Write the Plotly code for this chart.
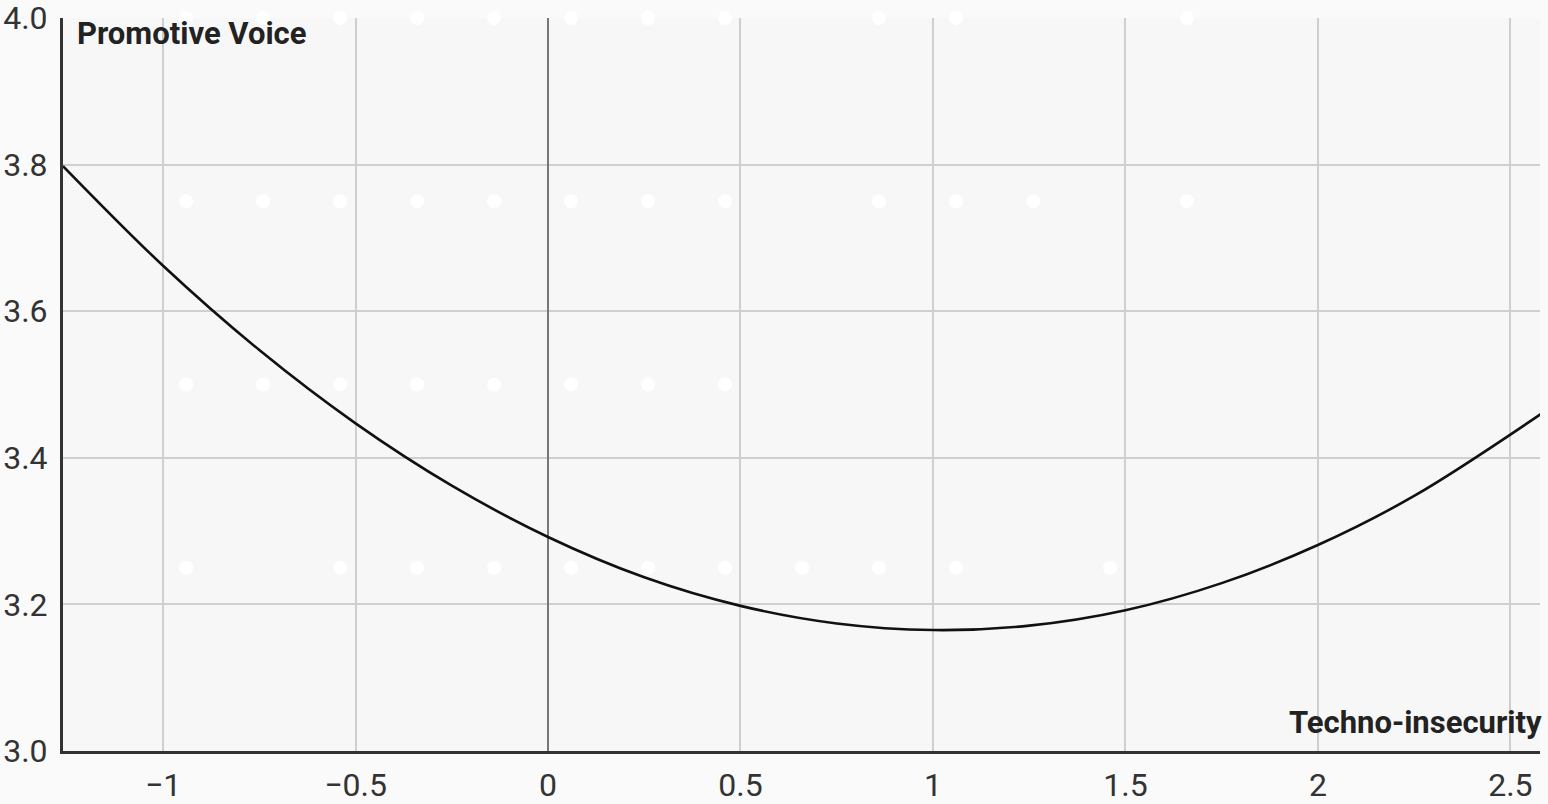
import plotly.graph_objects as go

# Curve values
curve_x = [-1.26, -1.0, -0.75, -0.5, -0.25, 0.0, 0.25, 0.5, 0.75, 1.0, 1.25, 1.5, 1.75, 2.0, 2.25, 2.58]
curve_y = [3.798, 3.662, 3.547, 3.447, 3.362, 3.292, 3.237, 3.198, 3.174, 3.165, 3.171, 3.192, 3.229, 3.281, 3.348, 3.460]

# Faint white background dots
dots_row_400 = [-0.94, -0.74, -0.54, -0.34, -0.14, 0.06, 0.26, 0.46, 0.86, 1.06, 1.66]
dots_row_375 = [-0.94, -0.74, -0.54, -0.34, -0.14, 0.06, 0.26, 0.46, 0.86, 1.06, 1.26, 1.66]
dots_row_350 = [-0.94, -0.74, -0.54, -0.34, -0.14, 0.06, 0.26, 0.46]
dots_row_325 = [-0.94, -0.54, -0.34, -0.14, 0.06, 0.26, 0.46, 0.66, 0.86, 1.06, 1.46]
dot_rows = [(4.0, dots_row_400), (3.75, dots_row_375), (3.5, dots_row_350), (3.25, dots_row_325)]

x_ticks = [-1, -0.5, 0, 0.5, 1, 1.5, 2, 2.5]
x_tick_labels = ["\u22121", "\u22120.5", "0", "0.5", "1", "1.5", "2", "2.5"]
y_ticks = [3.0, 3.2, 3.4, 3.6, 3.8, 4.0]

x_title = "Techno-insecurity"
y_title = "Promotive Voice"

fig = go.Figure()

dx, dy = [], []
for yv, xs in dot_rows:
    for xv in xs:
        dx.append(xv)
        dy.append(yv)
fig.add_trace(go.Scatter(x=dx, y=dy, mode="markers",
                         marker=dict(color="white", size=14, line=dict(width=0)),
                         hoverinfo="skip", showlegend=False, cliponaxis=False))

fig.add_trace(go.Scatter(x=curve_x, y=curve_y, mode="lines",
                         line=dict(color="#111111", width=2.6, shape="spline", smoothing=1.0),
                         showlegend=False))

fig.update_layout(
    width=1548, height=804,
    margin=dict(l=63, r=8, t=18, b=53, autoexpand=False),
    paper_bgcolor="#fafafa",
    plot_bgcolor="#f7f7f7",
    font=dict(family="Roboto", size=32, color="#333333"),
    xaxis=dict(range=[-1.26, 2.577], tickvals=x_ticks, ticktext=x_tick_labels,
               showgrid=True, gridcolor="#cfcfcf", gridwidth=2,
               zeroline=True, zerolinecolor="#777777", zerolinewidth=2,
               showline=True, linecolor="#333333", linewidth=3,
               ticks="", ticklabelstandoff=4, automargin=False,
               ticklabeloverflow="allow"),
    yaxis=dict(range=[3.0, 4.0], tickvals=y_ticks, tickformat=".1f",
               showgrid=True, gridcolor="#cfcfcf", gridwidth=2,
               zeroline=False,
               showline=True, linecolor="#333333", linewidth=3,
               ticks="", ticklabelstandoff=6, automargin=False,
               ticklabeloverflow="allow"),
    annotations=[
        dict(text="<b>" + y_title + "</b>", xref="paper", yref="paper", x=0.0, y=1.0,
             xanchor="left", yanchor="top", xshift=12, yshift=5, showarrow=False,
             font=dict(family="Roboto", size=31, color="#222222")),
        dict(text="<b>" + x_title + "</b>", xref="paper", yref="paper", x=1.0, y=0.0,
             xanchor="right", yanchor="bottom", xshift=4, yshift=8, showarrow=False,
             font=dict(family="Roboto", size=31, color="#222222")),
    ],
)

fig.write_html("out.html", config={"displayModeBar": False},
               post_script="document.body.style.margin='0';document.body.style.overflow='hidden';")
